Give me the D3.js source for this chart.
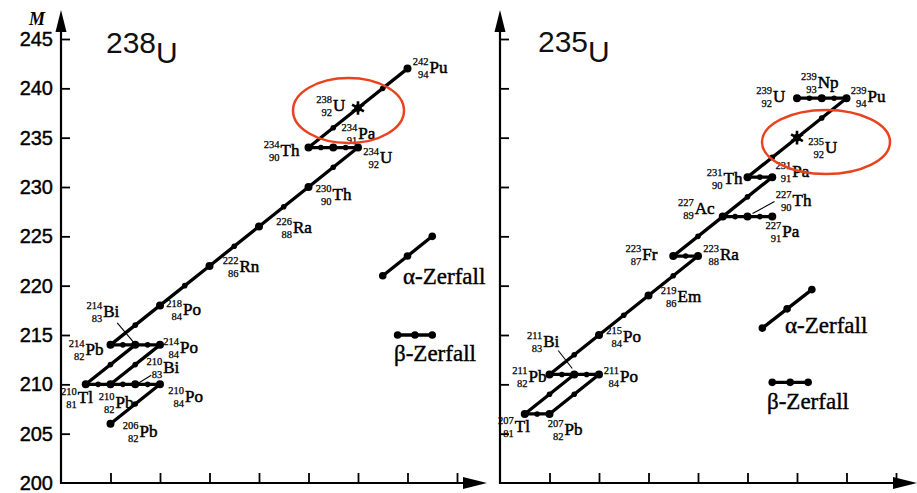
<!DOCTYPE html>
<html><head><meta charset="utf-8">
<script src="https://cdn.jsdelivr.net/npm/d3@7"></script>
<style>body{margin:0;background:#fff}</style>
</head><body><svg id="c" width="917" height="493"></svg>
<script>
// ---------- data ----------
const yTicks = [200,205,210,215,220,225,230,235,240,245];
const xTicks = [82,84,86,88,90,92,94,96];
const titles = [["238","U"],["235","U"]];

const nuclides238 = [["Pu",242,94],["U",238,92],["Th",234,90],["Pa",234,91],["U",234,92],
  ["Th",230,90],["Ra",226,88],["Rn",222,86],["Po",218,84],["Pb",214,82],["Bi",214,83],
  ["Po",214,84],["Tl",210,81],["Pb",210,82],["Bi",210,83],["Po",210,84],["Pb",206,82]];
const decays238 = [["242Pu","238U"],["238U","234Th"],["234Th","234Pa"],["234Pa","234U"],
  ["234U","230Th"],["230Th","226Ra"],["226Ra","222Rn"],["222Rn","218Po"],["218Po","214Pb"],
  ["214Pb","214Bi"],["214Bi","214Po"],["214Bi","210Tl"],["214Po","210Pb"],["210Tl","210Pb"],
  ["210Pb","210Bi"],["210Bi","210Po"],["210Po","206Pb"]];
const start238 = "238U";

const nuclides235 = [["U",239,92],["Np",239,93],["Pu",239,94],["U",235,92],["Th",231,90],
  ["Pa",231,91],["Ac",227,89],["Th",227,90],["Pa",227,91],["Fr",223,87],["Ra",223,88],
  ["Em",219,86],["Po",215,84],["Pb",211,82],["Bi",211,83],["Po",211,84],["Tl",207,81],["Pb",207,82]];
const decays235 = [["239U","239Np"],["239Np","239Pu"],["239Pu","235U"],["235U","231Th"],
  ["231Th","231Pa"],["231Pa","227Ac"],["227Ac","227Th"],["227Th","227Pa"],["227Ac","223Fr"],
  ["223Fr","223Ra"],["223Ra","219Em"],["219Em","215Po"],["215Po","211Pb"],["211Pb","211Bi"],
  ["211Bi","211Po"],["211Bi","207Tl"],["211Po","207Pb"],["207Tl","207Pb"]];
const start235 = "235U";

const legendLabels = ["α-Zerfall","β-Zerfall"];

// ---------- layout ----------
const panels = [
  { x0: 61, nuclides: nuclides238, decays: decays238, start: start238, title: titles[0],
    titleX: 106, titleY: 53, yLabels: true, axisEnd: 487,
    ellipse: [348.5,110.5,55.5,32.5],
    legA: [[93,221],[95,225]], legB: [[93.6,215],[95,215]],
    legAText: [403,284], legBText: [394,361],
    off: { "242Pu":[22,4], "238U":[-25,3], "234Pa":[25,-9], "234Th":[-28,8], "234U":[22,15],
      "230Th":[24,13], "226Ra":[34,7], "222Rn":[30,6], "218Po":[23,10], "214Bi":[-32,-28],
      "214Pb":[-25,10], "214Po":[20,8], "210Bi":[28,-11], "210Tl":[-8,19], "210Pb":[5,24],
      "210Po":[25,18], "206Pb":[29,13] },
    leaders: { "214Bi":[[-18,-22],[-2,-3]], "210Bi":[[16,-9],[3,-1]] } },
  { x0: 500, nuclides: nuclides235, decays: decays235, start: start235, title: titles[1],
    titleX: 538, titleY: 52, yLabels: false, axisEnd: 917,
    ellipse: [826,142,64,32],
    legA: [[90.6,215.7],[92.6,219.6]], legB: [[91,210.2],[92.45,210.2]],
    legAText: [785,333], legBText: [767,409],
    off: { "239U":[-24,4], "239Np":[-4,-10], "239Pu":[21,4], "235U":[28,15], "231Pa":[20,0],
      "231Th":[-24,7], "227Ac":[-28,-3], "227Th":[45,-11], "227Pa":[10,20], "223Fr":[-31,4],
      "223Ra":[22,4], "219Em":[29,6], "215Po":[24,7], "211Bi":[-31,-27], "211Pb":[-21,8],
      "211Po":[21,8], "207Tl":[-10,18], "207Pb":[15,21] },
    leaders: { "211Bi":[[-16,-24],[-2,-6]], "227Th":[[27,-15],[5,-3]] } }
];

const svg = d3.select("#c");
const serif = "'Liberation Serif','Times New Roman',serif";
const sans = "'Liberation Sans',Arial,sans-serif";
const yBase = 483, yTop = 39, zStep = 24.75;

function thick(sel, w) { return sel.attr("stroke","#000").attr("stroke-width",w).attr("paint-order","stroke"); }

panels.forEach(p => {
  const x = d3.scaleLinear().domain([80,96]).range([p.x0, p.x0 + 16*zStep]);
  const y = d3.scaleLinear().domain([200,245]).range([yBase, yTop]);
  const g = svg.append("g");

  // axes lines with arrows
  g.append("line").attr("x1",p.x0).attr("x2",p.x0).attr("y1",yBase+1).attr("y2",22)
    .attr("stroke","#000").attr("stroke-width",2.2);
  g.append("path").attr("d",`M${p.x0},10 L${p.x0-5.5},32 L${p.x0+5.5},32 Z`).attr("fill","#000");
  g.append("line").attr("x1",p.x0).attr("x2",p.axisEnd-10).attr("y1",yBase).attr("y2",yBase)
    .attr("stroke","#000").attr("stroke-width",2.2);
  g.append("path").attr("d",`M${p.axisEnd},${yBase} L${p.axisEnd-24},${yBase-6} L${p.axisEnd-24},${yBase+6} Z`).attr("fill","#000");

  const ya = g.append("g").attr("transform",`translate(${p.x0},0)`)
    .call(d3.axisRight(y).tickValues(yTicks.slice(1)).tickSize(9).tickFormat(""));
  ya.select(".domain").remove();
  ya.selectAll("line").attr("stroke-width",1.8);
  if (p.yLabels) {
    const yl = g.append("g").attr("transform",`translate(${p.x0},0)`)
      .call(d3.axisLeft(y).tickValues(yTicks).tickSize(0).tickPadding(8));
    yl.select(".domain").remove();
    thick(yl.selectAll("text").attr("font-family",sans).attr("font-size",20).attr("fill","#000"), 0.4);
    g.append("text").attr("x",29).attr("y",25).text("M")
      .attr("font-family",serif).attr("font-style","italic").attr("font-weight","bold").attr("font-size",18);
  }
  const xa = g.append("g").attr("transform",`translate(0,${yBase})`)
    .call(d3.axisTop(x).tickValues(xTicks).tickSize(10).tickFormat(""));
  xa.select(".domain").remove();
  xa.selectAll("line").attr("stroke-width",1.8);

  // title
  const t = g.append("text").attr("x",p.titleX).attr("y",p.titleY)
    .attr("font-family",sans).attr("font-size",30).attr("fill","#111");
  t.append("tspan").text(p.title[0]);
  t.append("tspan").attr("dy",10).text(p.title[1]);

  // nuclide lookup
  const map = {};
  p.nuclides.forEach(n => { map[n[1]+n[0]] = {sym:n[0], A:n[1], Z:n[2]}; });

  // decay lines
  p.decays.forEach(([a,b]) => {
    const A = map[a], B = map[b];
    g.append("line").attr("x1",x(A.Z)).attr("y1",y(A.A)).attr("x2",x(B.Z)).attr("y2",y(B.A))
      .attr("stroke","#000").attr("stroke-width",3.3).attr("stroke-linecap","round");
    g.append("circle").attr("cx",(x(A.Z)+x(B.Z))/2).attr("cy",(y(A.A)+y(B.A))/2)
      .attr("r",2.8).attr("fill","#000");
  });

  // nuclide dots & labels
  Object.entries(map).forEach(([k,n]) => {
    const px = x(n.Z), py = y(n.A);
    if (k === p.start) {
      g.append("path").attr("transform",`translate(${px},${py})`)
        .attr("d",d3.symbol(d3.symbolAsterisk,130)()).attr("stroke","#000").attr("stroke-width",2.6);
      g.append("circle").attr("cx",px).attr("cy",py).attr("r",3.8).attr("fill","#000");
    } else {
      g.append("circle").attr("cx",px).attr("cy",py).attr("r",4).attr("fill","#000");
    }
    const o = p.off[k] || [10,10];
    const lx = px + o[0], ly = py + o[1];
    thick(g.append("text").attr("x",lx).attr("y",ly).text(n.sym)
      .attr("font-family",serif).attr("font-size",17).attr("fill","#000"), 0.5);
    thick(g.append("text").attr("x",lx-1).attr("y",ly-8).attr("text-anchor","end").text(n.A)
      .attr("font-family",serif).attr("font-size",10.5).attr("fill","#000"), 0.25);
    thick(g.append("text").attr("x",lx-1).attr("y",ly+5).attr("text-anchor","end").text(n.Z)
      .attr("font-family",serif).attr("font-size",10.5).attr("fill","#000"), 0.25);
    const ld = p.leaders[k];
    if (ld) g.append("line").attr("x1",px+ld[0][0]).attr("y1",py+ld[0][1])
      .attr("x2",px+ld[1][0]).attr("y2",py+ld[1][1]).attr("stroke","#000").attr("stroke-width",1.1);
  });

  // legend
  [p.legA, p.legB].forEach(seg => {
    const [s,e] = seg;
    g.append("line").attr("x1",x(s[0])).attr("y1",y(s[1])).attr("x2",x(e[0])).attr("y2",y(e[1]))
      .attr("stroke","#000").attr("stroke-width",3.3);
    [[x(s[0]),y(s[1])],[x(e[0]),y(e[1])],[(x(s[0])+x(e[0]))/2,(y(s[1])+y(e[1]))/2]].forEach(c =>
      g.append("circle").attr("cx",c[0]).attr("cy",c[1]).attr("r",3.8).attr("fill","#000"));
  });
  thick(g.append("text").attr("x",p.legAText[0]).attr("y",p.legAText[1]).text(legendLabels[0])
    .attr("font-family",serif).attr("font-size",23).attr("fill","#000"), 0.4);
  thick(g.append("text").attr("x",p.legBText[0]).attr("y",p.legBText[1]).text(legendLabels[1])
    .attr("font-family",serif).attr("font-size",23).attr("fill","#000"), 0.4);

  // red ellipse
  const [ex,ey,rx,ry] = p.ellipse;
  g.append("ellipse").attr("cx",ex).attr("cy",ey).attr("rx",rx).attr("ry",ry)
    .attr("fill","none").attr("stroke","#e8431e").attr("stroke-width",2.5);
});
</script></body></html>
